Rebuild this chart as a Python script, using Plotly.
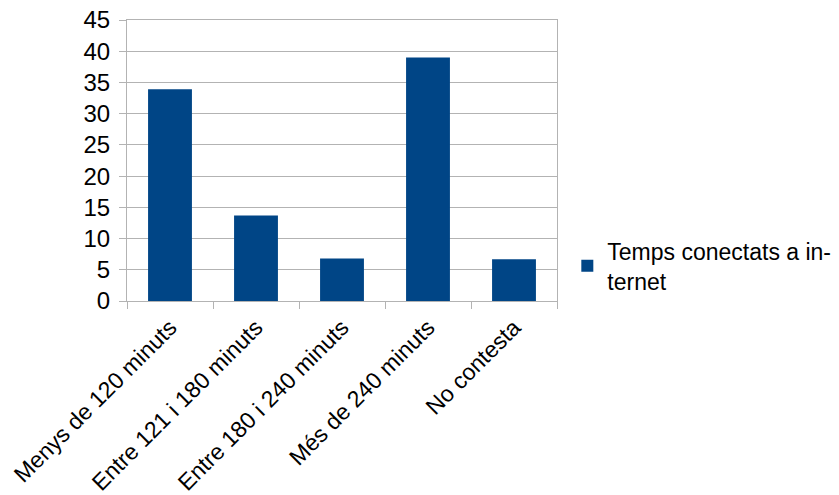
import plotly.graph_objects as go

categories = ["Menys de 120 minuts", "Entre 121 i 180 minuts", "Entre 180 i 240 minuts",
              "Més de 240 minuts", "No contesta"]
values = [33.9, 13.7, 6.8, 39.0, 6.7]
series_name = "Temps conectats a in-<br>ternet"
y_ticks = [0, 5, 10, 15, 20, 25, 30, 35, 40, 45]

FONT = "Liberation Sans, Arial, sans-serif"
GRID = "#b3b3b3"

fig = go.Figure(go.Bar(x=categories, y=values, name=series_name,
                       marker=dict(color="#004586", line=dict(width=0)),
                       showlegend=True))

fig.update_layout(
    width=831, height=487,
    margin=dict(l=119, r=282, t=12, b=194, autoexpand=False),
    paper_bgcolor="white", plot_bgcolor="white",
    font=dict(family=FONT, size=24, color="black"),
    bargap=0.49,
    legend=dict(x=1.024, y=0.125, xanchor="left", yanchor="middle",
                font=dict(size=23), bgcolor="rgba(0,0,0,0)", valign="middle",
                borderwidth=0),
)
fig.update_xaxes(
    type="category", tickangle=-45, tickson="boundaries",
    ticks="outside", ticklen=7, tickcolor=GRID, tickwidth=1,
    showline=True, linecolor=GRID, linewidth=1, mirror=True,
    showgrid=False, tickfont=dict(size=23), automargin=False,
    ticklabelstandoff=3, ticklabeloverflow="allow",
)
fig.update_yaxes(
    range=[0, 45], tickvals=y_ticks, ticks="outside", ticklen=7,
    tickcolor=GRID, tickwidth=1, showgrid=True, gridcolor=GRID, gridwidth=1,
    showline=True, linecolor=GRID, linewidth=1, mirror=True,
    zeroline=False, tickfont=dict(size=24), ticklabelstandoff=4, automargin=False,
    ticklabeloverflow="allow",
)

fig.write_html("out.html")
